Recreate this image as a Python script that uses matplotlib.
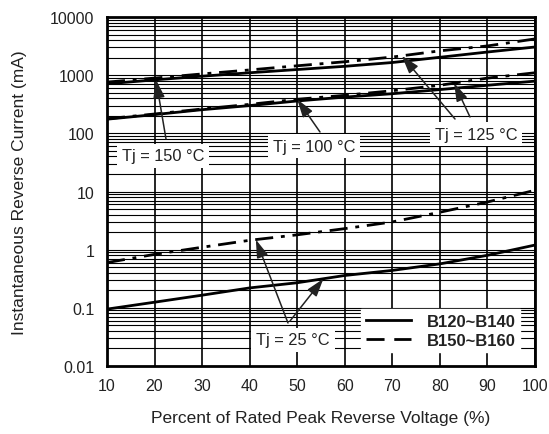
import numpy as np
import matplotlib
matplotlib.use('Agg')
import matplotlib.pyplot as plt
from matplotlib.lines import Line2D
from matplotlib.ticker import LogLocator, NullFormatter

plt.rcParams['font.family'] = ['Liberation Sans', 'DejaVu Sans']

# ─── Data ───
voltage_pct = [10, 20, 30, 40, 50, 60, 70, 80, 90, 100]

# upper pair (Tj = 150 / 125 °C)
hi_b120 = [710, 830, 960, 1100, 1250, 1420, 1650, 2030, 2500, 3050]
hi_b150 = [760, 890, 1050, 1230, 1450, 1700, 2050, 2620, 3180, 4200]
# middle pair (Tj = 100 / 125 °C)
mid_b120 = [175, 210, 255, 300, 360, 420, 480, 565, 670, 790]
mid_b150 = [178, 215, 262, 315, 385, 450, 540, 670, 890, 1100]
# lower pair (Tj = 25 °C)
lo_b120 = [0.095, 0.125, 0.165, 0.22, 0.27, 0.36, 0.44, 0.57, 0.8, 1.2]
lo_b150 = [0.6, 0.83, 1.1, 1.45, 1.8, 2.3, 3.0, 4.4, 6.6, 10.5]

y_ticks = [0.01, 0.1, 1, 10, 100, 1000, 10000]
y_tick_labels = ['0.01', '0.1', '1', '10', '100', '1000', '10000']
legend_labels = ['B120~B140', 'B150~B160']

DASH = (0, (6.5, 2.8, 1.4, 2.8))
LW = 2.0
INK = '#222222'


def at(xs, ys, x):
    # log-interpolated point on a curve, for arrow tips
    return x, 10 ** np.interp(x, xs, np.log10(ys))


fig = plt.figure(figsize=(5.49, 4.35), dpi=100)
ax = fig.add_axes([107 / 549, (435 - 367) / 435, (535 - 107) / 549, (367 - 18) / 435])

for ys in (hi_b120, mid_b120, lo_b120):
    ax.plot(voltage_pct, ys, color='black', lw=LW, solid_capstyle='butt', zorder=3)
for ys in (hi_b150, mid_b150, lo_b150):
    ax.plot(voltage_pct, ys, color='black', lw=LW, linestyle=DASH, zorder=3)

ax.set_yscale('log')
ax.set_xlim(10, 100)
ax.set_ylim(0.01, 10000)
ax.set_xticks(voltage_pct)
ax.set_yticks(y_ticks)
ax.set_yticklabels(y_tick_labels)
ax.yaxis.set_minor_locator(LogLocator(base=10, subs=np.arange(2, 10)))
ax.yaxis.set_minor_formatter(NullFormatter())
ax.tick_params(which='both', length=0, labelsize=11.5, colors=INK)
ax.tick_params(axis='x', pad=9)
ax.tick_params(axis='y', pad=9)

ax.grid(True, axis='x', which='major', color='black', lw=1.2, zorder=1)
ax.grid(True, axis='y', which='both', color='black', lw=0.8, zorder=1)
for s in ax.spines.values():
    s.set_linewidth(2.0)

ax.set_xlabel('Percent of Rated Peak Reverse Voltage (%)', fontsize=12.5, color=INK, labelpad=12)
ax.set_ylabel('Instantaneous Reverse Current (mA)', fontsize=12.5, color=INK, labelpad=17)

# ─── Annotations ───
arrow = dict(arrowstyle='-|>,head_length=1.1,head_width=0.35', color=INK,
             lw=1.1, shrinkA=0, shrinkB=0)
box = dict(boxstyle='square,pad=0.3', facecolor='white', edgecolor='none')


def frac(px, py):
    return ((px - 107) / 428, (367 - py) / 349)


def label(text, px, py):
    ax.text(*frac(px, py), text, transform=ax.transAxes, ha='center', va='center',
            fontsize=11.8, color=INK, bbox=box, zorder=5)


def point(tip, px, py):
    ax.annotate('', xy=tip, xycoords='data', xytext=frac(px, py),
                textcoords='axes fraction', arrowprops=arrow, zorder=4)


label('Tj = 150 °C', 163, 157)
point(at(voltage_pct, hi_b120, 20.3), 166, 140)

label('Tj = 100 °C', 314, 147)
point(at(voltage_pct, mid_b150, 50), 320, 133)

label('Tj = 125 °C', 476, 135)
point(at(voltage_pct, hi_b150, 72), 455, 120)
point(at(voltage_pct, mid_b150, 83), 470, 118)

label('Tj = 25 °C', 293, 341)
point(at(voltage_pct, lo_b150, 41.3), 288, 324)
point(at(voltage_pct, lo_b120, 55.5), 290, 322)

handles = [Line2D([], [], color='black', lw=LW),
           Line2D([], [], color='black', lw=LW, linestyle=(0, (6.5, 3.5)))]
leg = ax.legend(handles, legend_labels, loc='lower right', bbox_to_anchor=(0.985, 0.015),
                prop={'weight': 'bold', 'size': 12}, handlelength=2.7, handletextpad=1.0,
                labelspacing=0.28, borderpad=0.25, frameon=True, fancybox=False,
                framealpha=1, edgecolor='white', facecolor='white')
leg.set_zorder(6)
for t in leg.get_texts():
    t.set_color(INK)

fig.savefig('out.png', dpi=100, facecolor='white')
